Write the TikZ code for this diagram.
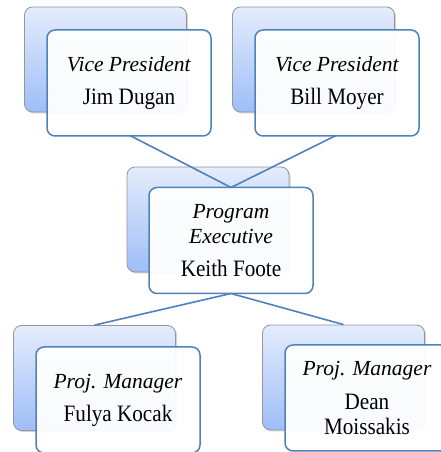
\documentclass[tikz,border=0pt]{standalone}
\usepackage{fontspec}
\setmainfont{Liberation Serif}
\newfontfamily\namefont[FakeStretch=0.9]{Liberation Serif}
\usetikzlibrary{shadows}
\definecolor{frameblue}{RGB}{79,129,189}
\definecolor{backtop}{RGB}{228,236,252}
\definecolor{backbot}{RGB}{158,190,247}
\definecolor{backedge}{RGB}{150,150,155}
\tikzset{
  backbox/.style={rectangle, rounded corners=8pt, minimum width=162pt, minimum height=105pt,
    draw=backedge, line width=0.8pt, top color=backtop, bottom color=backbot,
    drop shadow={opacity=0.35, shadow xshift=1.5pt, shadow yshift=-1.5pt}},
  frontbox/.style={rectangle, rounded corners=8pt, minimum width=164pt, minimum height=106pt,
    draw=frameblue, line width=1.5pt, fill=white, fill opacity=0.94, text opacity=1,
    align=center, font=\fontsize{21.5}{25}\selectfont, inner sep=2pt},
  link/.style={draw=frameblue, line width=1.6pt}
}
\newcommand{\ttl}[1]{\textit{#1}}
\newcommand{\nm}[1]{{\namefont\fontsize{23.5}{25}\selectfont #1}}
\begin{document}
\begin{tikzpicture}[x=1pt,y=1pt]
\useasboundingbox (0,0) rectangle (440,452);
% back boxes
\node[backbox] (b1) at (105.5,392.5) {};
\node[backbox] (b2) at (313.5,392.5) {};
\node[backbox] (b3) at (208,232.5) {};
\node[backbox] (b4) at (94.5,74) {};
\node[backbox] (b5) at (343.5,74.5) {};
% connector end points on the front boxes
\coordinate (f1s) at (129,317);
\coordinate (f2s) at (337,317);
\coordinate (f3n) at (231,264.5);
\coordinate (f3s) at (231,158.5);
% connectors
\draw[link] (f1s) -- (f3n);
\draw[link] (f2s) -- (f3n);
\draw[link] (f3s) -- (b4.north);
\draw[link] (f3s) -- (b5.north);
% front boxes
\node[frontbox] (f1) at (129,369) {\ttl{Vice President}\\[8pt]\nm{Jim Dugan}};
\node[frontbox] (f2) at (337,369) {\ttl{Vice President}\\[8pt]\nm{Bill Moyer}};
\node[frontbox] (f3) at (231,211.5) {\ttl{Program}\\\ttl{Executive}\\[8pt]\nm{Keith Foote}};
\node[frontbox] (f4) at (118,52) {\ttl{Proj. Manager}\\[8pt]\nm{Fulya Kocak}};
\node[frontbox] (f5) at (367,54) {\ttl{Proj. Manager}\\[9pt]\nm{Dean}\\\nm{Moissakis}};
\end{tikzpicture}
\end{document}
